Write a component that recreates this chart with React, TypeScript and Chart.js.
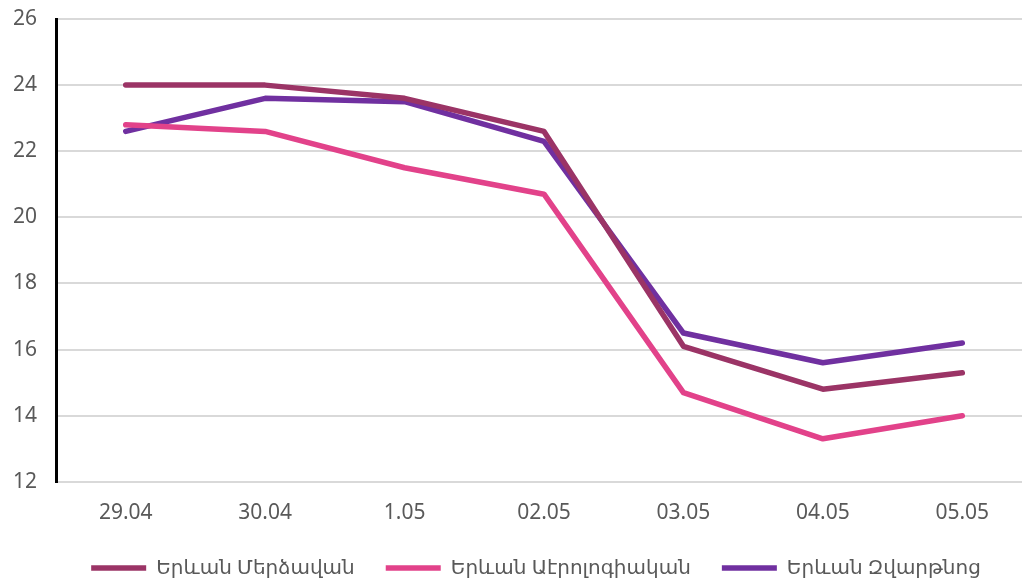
import React, { useEffect, useRef } from "react";
import { Chart, registerables } from "chart.js";

Chart.register(...registerables);

const categories = ["29.04", "30.04", "1.05", "02.05", "03.05", "04.05", "05.05"];
const seriesNames = ["Երևան Մերձավան", "Երևան Աէրոլոգիական", "Երևան Զվարթնոց"];
const merdzavan = [24, 24, 23.6, 22.6, 16.1, 14.8, 15.3];
const aerologiakan = [22.8, 22.6, 21.5, 20.7, 14.7, 13.3, 14.0];
const zvartnots = [22.6, 23.6, 23.5, 22.3, 16.5, 15.6, 16.2];
const colors = ["#9b3466", "#e2428a", "#7030a0"];
const yMin = 12;
const yMax = 26;
const yStep = 2;

const legendShift = {
  id: "legendShift",
  afterUpdate(chart: any) {
    const lg = chart.legend;
    if (lg) {
      lg.left += 23;
      lg.right += 23;
    }
  },
};

export default function App() {
  const ref = useRef<HTMLCanvasElement | null>(null);
  useEffect(() => {
    if (!ref.current) return;
    const font = "'Noto Sans', 'DejaVu Sans', sans-serif";
    const mk = (label: string, data: number[], color: string) => ({
      label,
      data,
      borderColor: color,
      backgroundColor: color,
      borderWidth: 5.5,
      borderCapStyle: "round" as const,
      borderJoinStyle: "round" as const,
      pointRadius: 0,
      pointHoverRadius: 0,
      tension: 0,
      fill: false,
    });
    const chart = new Chart(ref.current, {
      type: "line",
      data: {
        labels: categories,
        datasets: [
          mk(seriesNames[0], merdzavan, colors[0]),
          mk(seriesNames[1], aerologiakan, colors[1]),
          mk(seriesNames[2], zvartnots, colors[2]),
        ],
      },
      plugins: [legendShift],
      options: {
        animation: false,
        responsive: false,
        maintainAspectRatio: false,
        layout: { padding: { left: -6, right: 40, top: 19, bottom: -7 } },
        plugins: {
          tooltip: { enabled: false },
          legend: {
            position: "bottom",
            labels: {
              usePointStyle: true,
              pointStyle: "line",
              pointStyleWidth: 55,
              padding: 31,
              color: "#595959",
              font: { family: font, size: 20 },
            },
          },
        },
        scales: {
          x: {
            type: "category",
            offset: true,
            grid: { display: false, drawTicks: false },
            border: { display: true, color: "#d9d9d9", width: 2 },
            ticks: { color: "#595959", font: { family: font, size: 21 }, padding: 19, maxRotation: 0 },
            afterFit: (scale: any) => {
              scale.height = scale.height - 18;
            },
          },
          y: {
            min: yMin,
            max: yMax,
            ticks: { stepSize: yStep, color: "#595959", font: { family: font, size: 21 }, padding: 19 },
            grid: { color: "#d9d9d9", lineWidth: 2, drawTicks: false },
            border: { display: true, color: "#000000", width: 3 },
            afterFit: (scale: any) => {
              scale.paddingTop = 0;
              scale.paddingBottom = 0;
            },
          },
        },
      },
    });
    return () => chart.destroy();
  }, []);
  return (
    <div style={{ position: "fixed", left: 0, top: 0, width: 1022, height: 581, overflow: "hidden", background: "#fff" }}>
      <canvas ref={ref} width={1072} height={581} style={{ width: 1072, height: 581, display: "block" }} />
    </div>
  );
}
